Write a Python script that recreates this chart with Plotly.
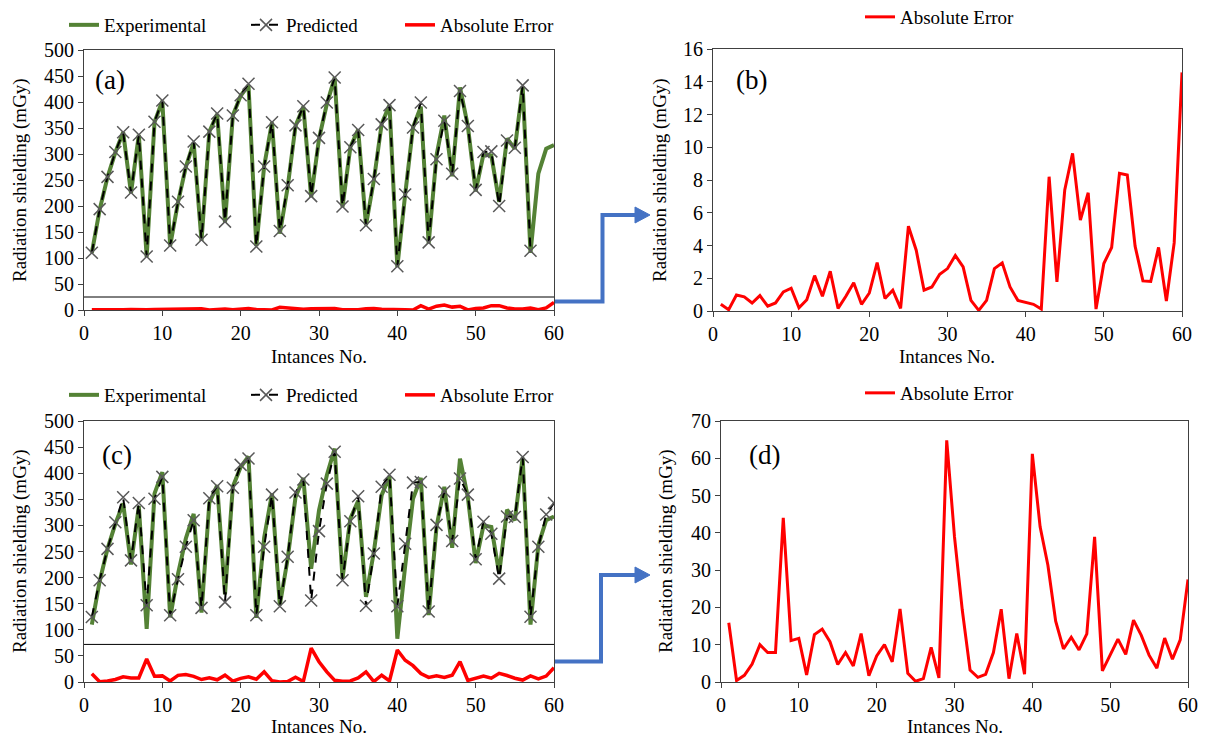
import plotly.graph_objects as go

W, H = 1208, 747          # browser window
OFF = 8                   # default body margin of the html page
FW, FH = W - 2 * OFF, H - 2 * OFF
FONT = "Liberation Serif"

instances = list(range(1, 61))

experimental = [110, 193, 255, 303, 342, 225, 337, 102, 361, 402,
                124, 207, 275, 322, 133, 343, 377, 168, 374, 412,
                432, 123, 277, 361, 147, 236, 354, 391, 217, 329,
                396, 447, 198, 313, 347, 163, 249, 358, 394, 83,
                222, 351, 391, 128, 297, 374, 257, 428, 354, 228,
                300, 297, 208, 330, 310, 430, 110, 262, 310, 317]

predicted_a = [110, 194, 256, 304, 342, 226, 337, 103, 362, 403,
               124, 208, 276, 324, 135, 343, 378, 170, 374, 413,
               435, 122, 276, 361, 152, 240, 355, 392, 219, 331,
               399, 447, 199, 313, 346, 163, 252, 357, 394, 84,
               222, 351, 399, 130, 290, 364, 262, 421, 354, 231,
               304, 305, 200, 326, 312, 432, 114]

predicted_c = [124.5, 195, 255, 306, 354, 233, 343, 147, 351, 393,
               128, 197, 259, 310, 142, 352, 375, 153, 372, 416,
               428, 128, 259, 359, 145, 240, 363, 388, 156, 289,
               380, 441, 195, 308, 356, 146, 246, 374, 397, 145,
               265, 382, 383, 135, 301, 365, 270, 390, 359, 235,
               307, 284, 198, 317, 316, 431, 125, 259, 321, 343]

error_b = [0.41, 0.08, 0.98, 0.86, 0.49, 0.94, 0.29, 0.49, 1.16, 1.39,
           0.20, 0.69, 2.16, 0.90, 2.43, 0.16, 0.90, 1.73, 0.41, 1.10,
           2.96, 0.76, 1.27, 0.16, 5.18, 3.71, 1.27, 1.47, 2.24, 2.59,
           3.39, 2.69, 0.65, 0.04, 0.65, 2.59, 2.94, 1.47, 0.65, 0.53,
           0.41, 0.12, 8.20, 1.78, 7.39, 9.63, 5.55, 7.22, 0.12, 2.90,
           3.88, 8.41, 8.31, 3.96, 1.84, 1.80, 3.88, 0.61, 4.16, 14.57]

error_d = [15.9, 0.4, 1.8, 4.8, 10.0, 7.9, 7.9, 44.0, 11.1, 11.7,
           1.9, 12.7, 14.2, 10.8, 4.7, 7.9, 4.3, 13.0, 1.7, 7.0,
           10.0, 5.4, 19.6, 2.3, 0.2, 0.9, 9.3, 1.1, 64.8, 38.9,
           19.3, 3.2, 1.25, 2.05, 7.9, 19.5, 0.9, 13.0, 2.1, 61.2,
           41.6, 31.3, 16.3, 8.9, 12.0, 8.6, 12.9, 38.9, 3.0, 7.2,
           11.5, 7.4, 16.6, 12.5, 7.2, 3.7, 11.8, 6.1, 11.3, 27.5]

x_ticks = [0, 10, 20, 30, 40, 50, 60]
y_title = "Radiation shielding (mGy)"
x_title = "Intances No."

GREEN = "#548235"
RED = "#FF0000"
BLUE = "#4472C4"


def px(x):
    return (x - OFF) / FW


def py(y):
    return 1 - (y - OFF) / FH


fig = go.Figure()

pred_marker = dict(symbol="x-thin", size=12, line=dict(color="#595959", width=1.5))

# ---- panel (a)
fig.add_trace(go.Scatter(x=instances, y=experimental, mode="lines", name="Experimental",
                         line=dict(color=GREEN, width=4), xaxis="x", yaxis="y", legend="legend"))
fig.add_trace(go.Scatter(x=instances[:len(predicted_a)], y=predicted_a, mode="lines+markers", name="Predicted",
                         line=dict(color="black", width=2, dash="dash"), marker=pred_marker,
                         xaxis="x", yaxis="y", legend="legend2"))
fig.add_trace(go.Scatter(x=instances, y=error_b, mode="lines", name="Absolute Error",
                         line=dict(color=RED, width=3.5), xaxis="x", yaxis="y", legend="legend3"))
# ---- panel (b)
fig.add_trace(go.Scatter(x=instances, y=error_b, mode="lines", name="Absolute Error",
                         line=dict(color=RED, width=3), xaxis="x2", yaxis="y2", legend="legend4"))
# ---- panel (c)
fig.add_trace(go.Scatter(x=instances, y=experimental, mode="lines", name="Experimental",
                         line=dict(color=GREEN, width=4), xaxis="x3", yaxis="y3", legend="legend5"))
fig.add_trace(go.Scatter(x=instances, y=predicted_c, mode="lines+markers", name="Predicted",
                         line=dict(color="black", width=2, dash="dash"), marker=pred_marker,
                         xaxis="x3", yaxis="y3", legend="legend6"))
fig.add_trace(go.Scatter(x=instances, y=error_d, mode="lines", name="Absolute Error",
                         line=dict(color=RED, width=3.5), xaxis="x3", yaxis="y3", legend="legend7"))
# ---- panel (d)
fig.add_trace(go.Scatter(x=instances, y=error_d, mode="lines", name="Absolute Error",
                         line=dict(color=RED, width=3), xaxis="x4", yaxis="y4", legend="legend8"))

axis_common = dict(showgrid=False, zeroline=False, showline=True, linecolor="#404040", linewidth=1,
                   mirror=True, ticks="outside", ticklen=5, tickcolor="#404040", automargin=False,
                   ticklabeloverflow="allow",
                   tickfont=dict(family=FONT, size=20, color="black"))

LOW = 10  # lower row lifted a little so the bottom titles fit inside the page

panels = {
    "": dict(x=(84, 554), y=(50, 310), yr=(0, 500), dy=50),
    "2": dict(x=(713, 1182), y=(49, 311), yr=(0, 16), dy=2),
    "3": dict(x=(84, 554), y=(431 - LOW, 692 - LOW), yr=(0, 500), dy=50),
    "4": dict(x=(721, 1188), y=(431 - LOW, 692 - LOW), yr=(0, 70), dy=10),
}
layout_axes = {}
for k, p in panels.items():
    layout_axes["xaxis" + k] = dict(axis_common, domain=[px(p["x"][0]), px(p["x"][1])],
                                    range=[0, 60], tickvals=x_ticks, anchor="y" + k)
    layout_axes["yaxis" + k] = dict(axis_common, domain=[py(p["y"][1]), py(p["y"][0])],
                                    range=list(p["yr"]), dtick=p["dy"], anchor="x" + k)

legend_font = dict(family=FONT, size=19, color="black")


def leg(x, y):
    return dict(x=px(x), y=py(y), xanchor="left", yanchor="middle", orientation="h",
                font=legend_font, bgcolor="rgba(0,0,0,0)", borderwidth=0, itemwidth=30)


fig.update_layout(
    width=FW, height=FH, margin=dict(l=0, r=0, t=0, b=0, autoexpand=False),
    paper_bgcolor="white", plot_bgcolor="white",
    font=dict(family=FONT, size=19, color="black"),
    showlegend=True,
    legend=leg(64, 25), legend2=leg(246, 25), legend3=leg(400, 25), legend4=leg(860, 17),
    legend5=leg(64, 405 - LOW), legend6=leg(246, 405 - LOW), legend7=leg(400, 405 - LOW),
    legend8=leg(860, 403 - LOW),
    **layout_axes,
)

annotations = []
# panel labels
for k, (lx, ly, t) in {"": (110, 80, "(a)"), "2": (751, 80, "(b)"),
                       "3": (117, 465 - LOW, "(c)"), "4": (764, 465 - LOW, "(d)")}.items():
    annotations.append(dict(x=px(lx), y=py(ly), xref="paper", yref="paper", text=t, showarrow=False,
                            font=dict(family=FONT, size=27, color="black"),
                            xanchor="center", yanchor="middle"))
# axis titles
for (tx, ty) in [(20, 180), (660, 180), (20, 561 - LOW), (666, 561 - LOW)]:
    annotations.append(dict(x=px(tx), y=py(ty), xref="paper", yref="paper", text=y_title, showarrow=False,
                            textangle=-90, font=dict(family=FONT, size=19, color="black"),
                            xanchor="center", yanchor="middle"))
for (tx, ty) in [(319, 356), (947, 356)]:
    annotations.append(dict(x=px(tx), y=py(ty), xref="paper", yref="paper", text=x_title, showarrow=False,
                            font=dict(family=FONT, size=19, color="black"),
                            xanchor="center", yanchor="middle"))
for tx in [319, 955]:
    annotations.append(dict(x=px(tx), y=0, xref="paper", yref="paper", text=x_title, showarrow=False,
                            font=dict(family=FONT, size=19, color="black"),
                            xanchor="center", yanchor="bottom"))
fig.update_layout(annotations=annotations)

shapes = []
# separators between main curves and error strip
shapes.append(dict(type="line", xref="x domain", yref="y", x0=0, x1=1, y0=25, y1=25,
                   line=dict(color="black", width=1)))
shapes.append(dict(type="line", xref="x3 domain", yref="y3", x0=0, x1=1, y0=72, y1=72,
                   line=dict(color="black", width=1)))


def path(points, close=False):
    s = "M " + " L ".join(f"{px(a):.5f},{py(b):.5f}" for a, b in points)
    return s + (" Z" if close else "")


for (y_low, x_mid, y_high) in [(301.5, 602.5, 215), (671.5 - LOW, 601, 585 - LOW)]:
    shapes.append(dict(type="path", xref="paper", yref="paper",
                       path=path([(555, y_low), (x_mid, y_low), (x_mid, y_high), (637, y_high)]),
                       line=dict(color=BLUE, width=4)))
    shapes.append(dict(type="path", xref="paper", yref="paper",
                       path=path([(635, y_high - 8), (650, y_high), (635, y_high + 8)], close=True),
                       fillcolor=BLUE, line=dict(color=BLUE, width=1)))
fig.update_layout(shapes=shapes)

fig.write_html("out.html")
